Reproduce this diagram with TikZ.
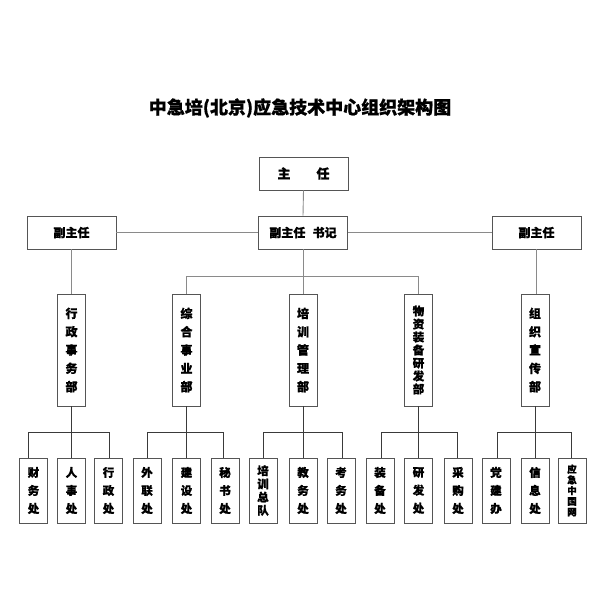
\documentclass[tikz,border=0pt]{standalone}
\usepackage{fontspec}
\setmainfont{Noto Sans CJK SC}[BoldFeatures={FakeBold=0.8}]
\definecolor{boxc}{HTML}{555555}
\definecolor{linec}{HTML}{8A8A8A}
\definecolor{busc}{HTML}{3A3A3A}
\begin{document}
\begin{tikzpicture}[x=1pt,y=-1pt,
  hbox/.style={draw=boxc,line width=0.8pt,inner sep=0pt,minimum width=89pt,minimum height=33pt,font=\fontsize{12}{14}\selectfont\bfseries},
  vdept/.style={draw=boxc,line width=0.8pt,inner sep=0pt,minimum width=28pt,minimum height=112pt,align=center,font=\fontsize{12}{18.3}\selectfont\bfseries},
  leaf/.style={draw=boxc,line width=0.8pt,inner sep=0pt,minimum width=28pt,minimum height=65pt,align=center,font=\fontsize{11.5}{18}\selectfont\bfseries},
  conn/.style={draw=linec,line width=0.9pt},
  bus/.style={draw=busc,line width=0.8pt}]
\useasboundingbox (0,0) rectangle (600,600);
\node (title) at (300,108) {\fontsize{18}{20}\selectfont\bfseries 中急培(北京)应急技术中心组织架构图};
% top
\node[hbox,font=\fontsize{13}{15}\selectfont\bfseries] (zr) at (303.5,173.5) {主\hspace{2em}任};
\node[hbox] (fzr1) at (71.5,232.5) {副主任};
\node[hbox] (fzsj) at (303,232.5) {副主任\hspace{0.6em}书记};
\node[hbox] (fzr2) at (536.5,232.5) {副主任};
\draw[conn] (zr.south) -- (fzsj.north);
\draw[conn] (fzr1.east) -- (fzsj.west);
\draw[conn] (fzsj.east) -- (fzr2.west);
% departments
\node[vdept] (d1) at (71.5,350) {行\\政\\事\\务\\部};
\node[vdept] (d2) at (186.5,350) {综\\合\\事\\业\\部};
\node[vdept] (d3) at (303,350) {培\\训\\管\\理\\部};
\node[vdept,font=\fontsize{11.5}{13}\selectfont\bfseries] (d4) at (418.5,350) {物\\资\\装\\备\\研\\发\\部};
\node[vdept] (d5) at (535,350) {组\\织\\宣\\传\\部};
\draw[conn] (fzr1.south) -- (d1.north);
\draw[conn] (fzr2.south) -- (fzr2.south |- d5.north);
\coordinate (tbl) at (186.5,276);
\coordinate (tbr) at (418.5,276);
\draw[conn] (fzsj.south) -- (d3.north);
\draw[conn] (tbl) -- (tbr);
\draw[conn] (tbl) -- (d2.north);
\draw[conn] (tbr) -- (d4.north);
% leaves
\node[leaf] (l1) at (33.5,490.5) {财\\务\\处};
\node[leaf] (l2) at (71.5,490.5) {人\\事\\处};
\node[leaf] (l3) at (108.5,490.5) {行\\政\\处};
\node[leaf] (l4) at (147,490.5) {外\\联\\处};
\node[leaf] (l5) at (186.5,490.5) {建\\设\\处};
\node[leaf] (l6) at (225,490.5) {秘\\书\\处};
\node[leaf,font=\fontsize{11.5}{13.2}\selectfont\bfseries] (l7) at (263,490.5) {培\\训\\总\\队};
\node[leaf] (l8) at (303,490.5) {教\\务\\处};
\node[leaf] (l9) at (341,490.5) {考\\务\\处};
\node[leaf] (l10) at (380,490.5) {装\\备\\处};
\node[leaf] (l11) at (418.5,490.5) {研\\发\\处};
\node[leaf] (l12) at (458,490.5) {采\\购\\处};
\node[leaf] (l13) at (496,490.5) {党\\建\\办};
\node[leaf] (l14) at (535,490.5) {信\\息\\处};
\node[leaf,font=\fontsize{9.5}{10.7}\selectfont\bfseries] (l15) at (572,490.5) {应\\急\\中\\国\\网};
% group buses
\coordinate (g1l) at (28,432);  \coordinate (g1r) at (109,432);
\coordinate (g2l) at (147,432); \coordinate (g2r) at (223,432);
\coordinate (g3l) at (263,432); \coordinate (g3r) at (342,432);
\coordinate (g4l) at (381,432); \coordinate (g4r) at (457,432);
\coordinate (g5l) at (497,432); \coordinate (g5r) at (571,432);
\draw[bus] (g1l) -- (g1r);
\draw[bus] (g2l) -- (g2r);
\draw[bus] (g3l) -- (g3r);
\draw[bus] (g4l) -- (g4r);
\draw[bus] (g5l) -- (g5r);
\draw[bus] (d1.south) -- (l2.north);
\draw[bus] (d2.south) -- (l5.north);
\draw[bus] (d3.south) -- (l8.north);
\draw[bus] (d4.south) -- (l11.north);
\draw[bus] (d5.south) -- (l14.north);
\draw[bus] (g1l) -- (g1l |- l1.north);
\draw[bus] (g1r) -- (g1r |- l3.north);
\draw[bus] (g2l) -- (g2l |- l4.north);
\draw[bus] (g2r) -- (g2r |- l6.north);
\draw[bus] (g3l) -- (g3l |- l7.north);
\draw[bus] (g3r) -- (g3r |- l9.north);
\draw[bus] (g4l) -- (g4l |- l10.north);
\draw[bus] (g4r) -- (g4r |- l12.north);
\draw[bus] (g5l) -- (g5l |- l13.north);
\draw[bus] (g5r) -- (g5r |- l15.north);
\end{tikzpicture}
\end{document}
